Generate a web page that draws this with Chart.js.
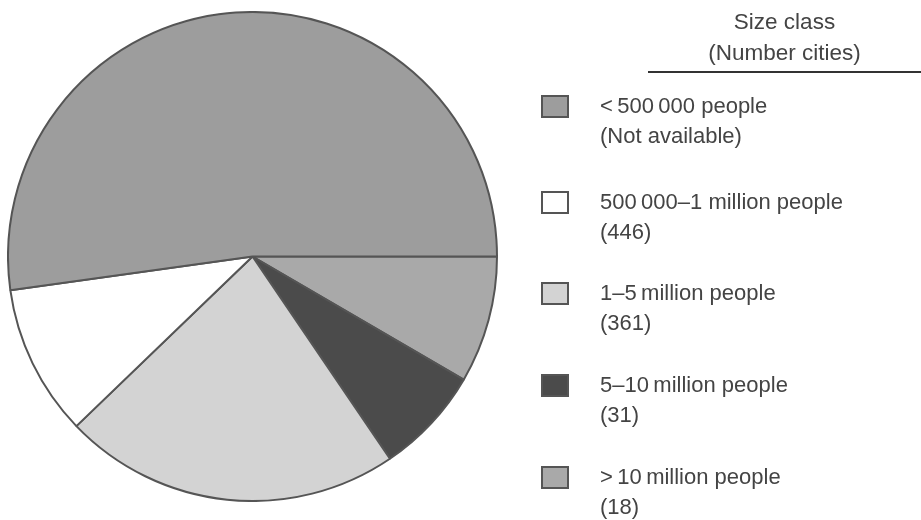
<!DOCTYPE html>
<html>
<head>
<meta charset="utf-8">
<script src="https://cdn.jsdelivr.net/npm/chart.js@4.4.1/dist/chart.umd.min.js"></script>
<style>
  html, body { margin: 0; padding: 0; background: #fff; }
  body { width: 921px; height: 520px; position: relative; overflow: hidden;
         font-family: "Liberation Sans", Arial, sans-serif; color: #444; }
  #pieBox { position: absolute; left: 7px; top: 11px; width: 491px; height: 491px; }
  #legend { position: absolute; left: 0; top: 0; width: 921px; height: 520px; }
  .ttl { position: absolute; left: 648px; width: 273px; text-align: center; font-size: 22.5px; }
  .rule { position: absolute; left: 648px; top: 71px; width: 273px; height: 2px; background: #333; }
  .box { position: absolute; left: 541px; width: 24px; height: 19px; border: 2px solid #555; }
  .lbl { position: absolute; left: 600px; font-size: 22px; line-height: 30px; white-space: nowrap; }
</style>
</head>
<body>
<div id="pieBox"><canvas id="myChart"></canvas></div>
<div id="legend"></div>
<script>
// size classes, in legend order (top to bottom)
var classes = ["<\u2009500\u2009000 people", "500\u2009000\u20131 million people", "1\u20135\u2009million people", "5\u201310\u2009million people", ">\u200910\u2009million people"];
var cityCounts = ["Not available", "446", "361", "31", "18"];
// share of the pie (percent)
var shares = [52.2, 10.0, 22.3, 7.1, 8.4];
var colors = ["#9d9d9d", "#ffffff", "#d3d3d3", "#4b4b4b", "#a9a9a9"];

// pie is drawn clockwise from 3 o'clock, so feed it in reverse order
var ctx = document.getElementById("myChart").getContext('2d');
var pie = new Chart(ctx, {
    type: 'pie',
    data: {
        labels: classes.slice().reverse(),
        datasets: [{
            data: shares.slice().reverse(),
            backgroundColor: colors.slice().reverse(),
            borderColor: "#555",
            borderWidth: 2
        }]
    },
    options: {
        responsive: true,
        maintainAspectRatio: false,
        animation: false,
        rotation: 90,
        plugins: { legend: { display: false }, tooltip: { enabled: false } }
    }
});

// legend on the right
var legend = document.getElementById('legend');
var html = '<div class="ttl" style="top:9px">Size class</div>' +
           '<div class="ttl" style="top:40px">(Number cities)</div>' +
           '<div class="rule"></div>';
var rowTop = [106, 202, 293, 385, 477];
for (var i = 0; i < classes.length; i++) {
    html += '<div class="box" style="top:' + (rowTop[i] - 11) + 'px;background:' + colors[i] + '"></div>';
    html += '<div class="lbl" style="top:' + (rowTop[i] - 15) + 'px">' +
            classes[i].replace('<', '&lt;') + '<br>(' + cityCounts[i] + ')</div>';
}
legend.innerHTML = html;
</script>
</body>
</html>
